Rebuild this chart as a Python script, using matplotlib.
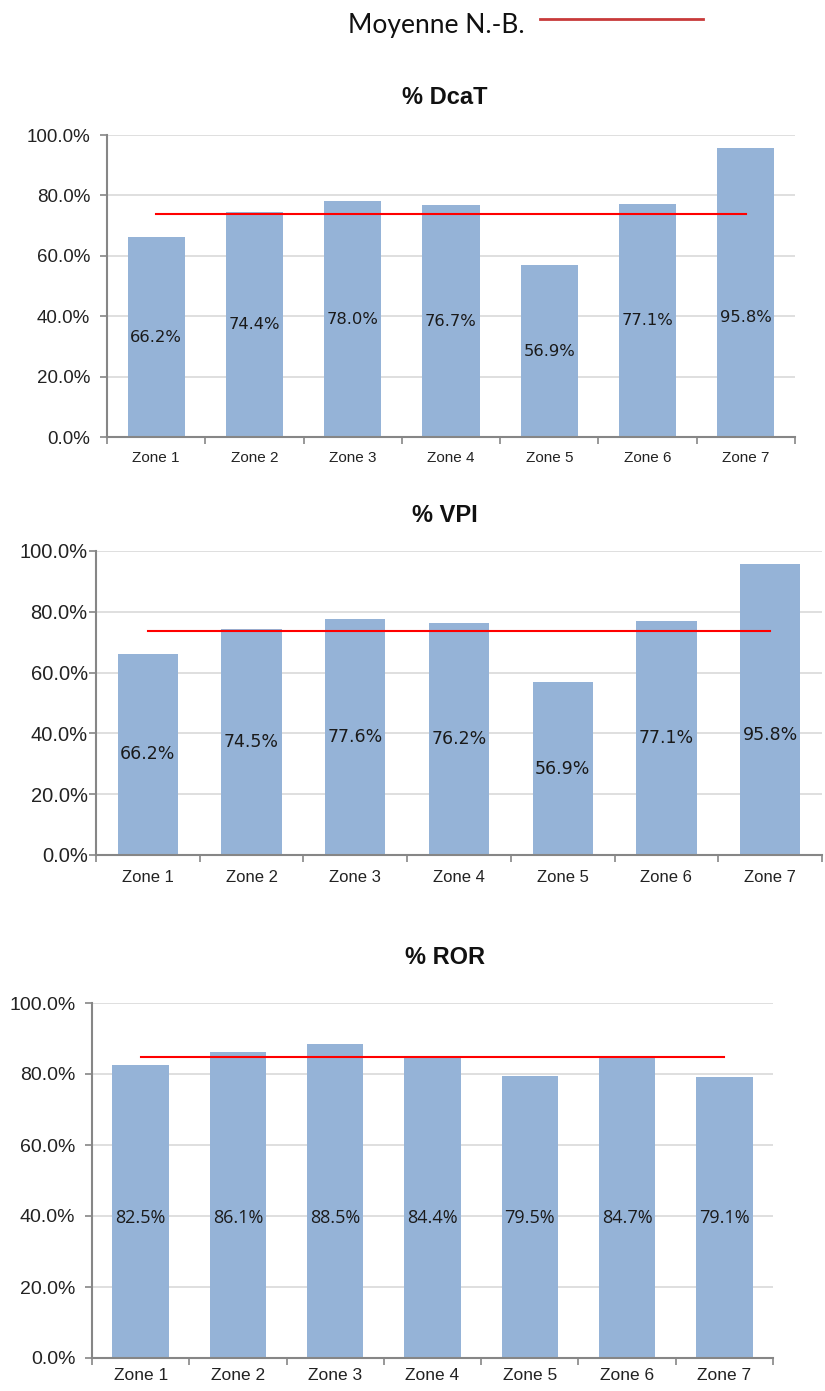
import matplotlib.pyplot as plt
from matplotlib.ticker import FuncFormatter, FixedLocator
from matplotlib.lines import Line2D

zones = ['Zone 1', 'Zone 2', 'Zone 3', 'Zone 4', 'Zone 5', 'Zone 6', 'Zone 7']

dcat = [66.2, 74.4, 78.0, 76.7, 56.9, 77.1, 95.8]
dcat_moy = 73.8

vpi = [66.2, 74.5, 77.6, 76.2, 56.9, 77.1, 95.8]
vpi_moy = 73.7

ror = [82.5, 86.1, 88.5, 84.4, 79.5, 84.7, 79.1]
ror_moy = 84.9

titres = ['% DcaT', '% VPI', '% ROR']

bar_color = '#95B3D7'
grid_color = '#D9D9D9'
spine_color = '#868686'

fig = plt.figure(figsize=(8.25, 13.91), dpi=100)

# positions des axes (fraction de la figure)
rects = [
    [107/825, 1 - 437/1391, 688/825, 302/1391],
    [96/825, 1 - 855/1391, 726/825, 304/1391],
    [92/825, 1 - 1358/1391, 681/825, 355/1391],
]
titre_y = [98, 515, 957]

# style propre a chaque graphique (ils ne viennent pas du meme classeur)
styles = [
    dict(lab_font='DejaVu Sans', lab_size=11.8, y_size=13.5, y_pad=7,
         x_font=['Liberation Sans'], x_size=11, x_pad=10),
    dict(lab_font='DejaVu Sans', lab_size=12.5, y_size=14.5, y_pad=1,
         x_font=['Liberation Sans'], x_size=12, x_pad=11),
    dict(lab_font='Open Sans', lab_size=13, y_size=14, y_pad=7,
         x_font=['Liberation Sans Narrow', 'Liberation Sans'], x_size=12.5, x_pad=7),
]


def trace(ax, valeurs, moyenne, st):
    x = list(range(len(zones)))
    ax.bar(x, valeurs, width=0.58, color=bar_color, zorder=2)
    ax.plot([x[0], x[-1]], [moyenne, moyenne], color='#FF0000', lw=1.5, zorder=3)

    # etiquettes au milieu des barres (Excel les plafonne un peu)
    for i, v in enumerate(valeurs):
        ax.text(i, min(v / 2, 39.5), f'{v:.1f}%', ha='center', va='center',
                fontsize=st['lab_size'], family=st['lab_font'], color='#1a1a1a', zorder=4)

    ax.set_xlim(-0.5, 6.5)
    ax.set_ylim(0, 100)
    ax.set_yticks([0, 20, 40, 60, 80, 100])
    ax.yaxis.set_major_formatter(FuncFormatter(lambda v, p: f'{v:.1f}%'))
    ax.yaxis.grid(True, color=grid_color, lw=1.2, zorder=0)
    ax.set_axisbelow(True)

    ax.set_xticks(x)
    ax.set_xticklabels(zones)
    ax.xaxis.set_minor_locator(FixedLocator([k - 0.5 for k in range(8)]))
    ax.tick_params(axis='x', which='major', length=0, pad=st['x_pad'],
                   labelsize=st['x_size'], colors='#222222')
    ax.tick_params(axis='x', which='minor', length=5, width=1.2, color=spine_color)
    ax.tick_params(axis='y', length=5, width=1.2, color=spine_color,
                   labelsize=st['y_size'], pad=st['y_pad'])
    for lab in ax.get_xticklabels():
        lab.set_family(st['x_font'])
        lab.set_color('#222222')
    for lab in ax.get_yticklabels():
        lab.set_family('Liberation Sans')
        lab.set_color('#222222')

    for s in ['top', 'right']:
        ax.spines[s].set_visible(False)
    for s in ['left', 'bottom']:
        ax.spines[s].set_color(spine_color)
        ax.spines[s].set_linewidth(1.5)


series = [(dcat, dcat_moy), (vpi, vpi_moy), (ror, ror_moy)]
for k, (vals, moy) in enumerate(series):
    ax = fig.add_axes(rects[k])
    trace(ax, vals, moy, styles[k])
    fig.text(445/825, 1 - titre_y[k]/1391, titres[k], ha='center', va='center',
             fontsize=17, fontweight='bold', family='Liberation Sans', color='#111111')

# legende en haut
fig.text(525/825, 1 - 25/1391, 'Moyenne N.-B.', ha='right', va='center',
         fontsize=19, family='Lato', color='#111111')
fig.add_artist(Line2D([540/825, 703/825], [1 - 19/1391, 1 - 19/1391],
                      color='#C83a3a', lw=2, transform=fig.transFigure))

fig.savefig('out.png', dpi=100)
